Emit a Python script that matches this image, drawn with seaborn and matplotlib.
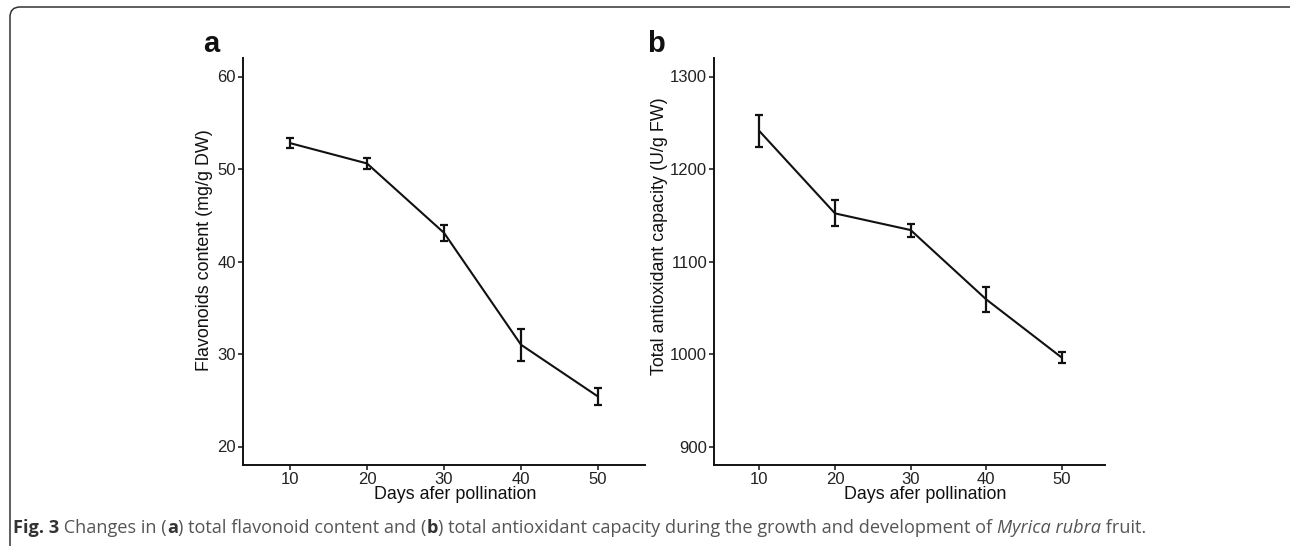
import numpy as np
import pandas as pd
import matplotlib
matplotlib.use('Agg')
import matplotlib.pyplot as plt
import seaborn as sns
from matplotlib.patches import FancyBboxPatch
from matplotlib.transforms import IdentityTransform

## Data
days = [10, 20, 30, 40, 50]
flavonoids = [52.8, 50.6, 43.1, 31.0, 25.4]
flavonoids_err = [0.5, 0.6, 0.85, 1.75, 0.9]
antioxidant = [1241, 1152, 1134, 1059, 996]
antioxidant_err = [17, 14, 7, 13.5, 6]

FIG_W, FIG_H, DPI = 1290, 546, 100

sns.set_theme(style='ticks')
plt.rcParams['font.family'] = ['Liberation Sans', 'DejaVu Sans']

fig = plt.figure(figsize=(FIG_W / DPI, FIG_H / DPI), dpi=DPI)
fig.patch.set_facecolor('white')


def px_axes(left, right, top, bottom):
    return fig.add_axes([left / FIG_W, (FIG_H - bottom) / FIG_H,
                         (right - left) / FIG_W, (bottom - top) / FIG_H])


def style_axes(ax, xlim, ylim, yticks, ylabel, xlab_pos, ylab_pos):
    ax.set_facecolor('white')
    ax.set_xlim(*xlim)
    ax.set_ylim(*ylim)
    ax.set_xticks(days)
    ax.set_yticks(yticks)
    for side in ['top', 'right']:
        ax.spines[side].set_visible(False)
    for side in ['left', 'bottom']:
        ax.spines[side].set_color('#111111')
        ax.spines[side].set_linewidth(1.4)
    ax.tick_params(axis='both', direction='out', length=3.5, width=1.1,
                   color='#111111', labelcolor='#222222', labelsize=12, pad=1.5)
    ax.set_xlabel('Days afer pollination', fontsize=12.9, color='#111111')
    ax.set_ylabel(ylabel, fontsize=12.9, color='#111111')
    ax.xaxis.set_label_coords(*xlab_pos)
    ax.yaxis.set_label_coords(*ylab_pos)
    ax.grid(False)


def draw_panel(ax, vals, errs):
    df = pd.DataFrame({'day': days, 'val': vals, 'err': errs})
    sns.lineplot(data=df, x='day', y='val', color='#111111', linewidth=1.5, ax=ax)
    ax.errorbar(df['day'], df['val'], yerr=df['err'], fmt='none', ecolor='#111111',
                elinewidth=1.6, capsize=3, capthick=1.6)


# panel a
ax1 = px_axes(243, 645, 58, 465)
draw_panel(ax1, flavonoids, flavonoids_err)
style_axes(ax1, (3.9, 56.1), (18, 62), [20, 30, 40, 50, 60],
           'Flavonoids content (mg/g DW)', (0.529, -0.052), (-0.075, 0.528))

# panel b
ax2 = px_axes(714, 1105, 58, 465)
draw_panel(ax2, antioxidant, antioxidant_err)
style_axes(ax2, (4.0, 55.7), (880, 1320), [900, 1000, 1100, 1200, 1300],
           'Total antioxidant capacity (U/g FW)', (0.540, -0.052), (-0.118, 0.563))

# panel letters
fig.text(203 / FIG_W, (FIG_H - 52) / FIG_H, 'a', fontsize=21, fontweight='bold',
         color='#111111', ha='left', va='baseline')
fig.text(647 / FIG_W, (FIG_H - 52) / FIG_H, 'b', fontsize=21, fontweight='bold',
         color='#111111', ha='left', va='baseline')

# caption, built piece by piece
renderer = fig.canvas.get_renderer()
cap_font = ['Open Sans', 'DejaVu Sans']
cap_size = 13.1
pieces = [
    ('Fig. 3', 'bold', 'normal', '#333333'),
    (' Changes in (', 'normal', 'normal', '#555555'),
    ('a', 'bold', 'normal', '#333333'),
    (') total flavonoid content and (', 'normal', 'normal', '#555555'),
    ('b', 'bold', 'normal', '#333333'),
    (') total antioxidant capacity during the growth and development of ',
     'normal', 'normal', '#555555'),
    ('Myrica rubra', 'normal', 'italic', '#555555'),
    (' fruit.', 'normal', 'normal', '#555555'),
]


def text_width(s, weight, style):
    t1 = fig.text(0, 0, 'X' + s + 'X', family=cap_font, fontsize=cap_size,
                  fontweight=weight, fontstyle=style, transform=IdentityTransform())
    t2 = fig.text(0, 0, 'XX', family=cap_font, fontsize=cap_size,
                  fontweight=weight, fontstyle=style, transform=IdentityTransform())
    w = t1.get_window_extent(renderer).width - t2.get_window_extent(renderer).width
    t1.remove()
    t2.remove()
    return w


x = 13
y = FIG_H - 533
for s, weight, style, col in pieces:
    fig.text(x, y, s, family=cap_font, fontsize=cap_size, fontweight=weight,
             fontstyle=style, color=col, ha='left', va='baseline',
             transform=IdentityTransform())
    x += text_width(s, weight, style)

# rounded frame (right and bottom edges fall outside the picture)
frame = FancyBboxPatch((10, -20), 1300, FIG_H - 7 + 20, boxstyle='round,pad=0,rounding_size=10',
                       transform=IdentityTransform(), facecolor='none',
                       edgecolor='#333333', linewidth=1.1)
fig.add_artist(frame)

fig.savefig('out.png', dpi=DPI, facecolor='white')
